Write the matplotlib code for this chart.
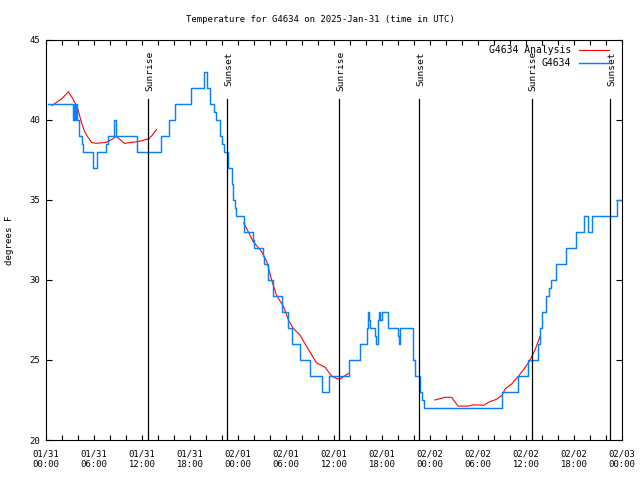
import matplotlib
matplotlib.use("Agg")
import matplotlib.pyplot as plt
import numpy as np

# ---- data (hours since 2025-01-31 00:00 UTC) ----
blue_hours = [0.2, 3.35, 3.5, 3.6, 3.75, 3.85, 4.15, 4.45, 4.6, 5.85, 6.4, 7.55, 7.7,
              8.45, 8.8, 11.4, 14.4, 15.4, 16.1, 18.1, 19.7, 20.15, 20.5, 21.0, 21.3,
              21.7, 22.0, 22.2, 22.7, 23.2, 23.4, 23.6, 23.7, 24.7, 24.8, 25.9, 26.0,
              27.1, 27.3, 27.7, 27.8, 28.4, 29.5, 30.3, 30.7, 31.75, 33.0, 34.5, 35.4,
              37.9, 39.3, 40.15, 40.3, 40.4, 40.5, 41.15, 41.3, 41.5, 41.65, 41.8, 41.95,
              42.8, 44.0, 44.15, 44.3, 45.9, 46.1, 46.75, 47.0, 47.2, 57.0, 59.0, 60.25,
              61.5, 61.75, 62.0, 62.5, 62.9, 63.1, 63.7, 65.0, 66.3, 67.3, 67.8, 68.3,
              71.4, 72.0]
blue_temps = [41, 40, 41, 40, 41, 40, 39, 38.5, 38, 37, 38, 38.5, 39,
              40, 39, 38, 39, 40, 41, 42, 43, 42, 41, 40.5, 40,
              39, 38.5, 38, 37, 36, 35, 34.5, 34, 33.5, 33, 32.5, 32,
              31.5, 31, 30.5, 30, 29, 28, 27, 26, 25, 24, 23, 24,
              25, 26, 27, 28, 27.5, 27, 26.5, 26, 27.5, 28, 27.5, 28,
              27, 26.5, 26, 27, 25, 24, 23, 22.5, 22, 23, 24, 25,
              26, 27, 28, 29, 29.5, 30, 31, 32, 33, 34, 33, 34,
              35, 35]

red_hours = [0.75, 1.25, 1.9, 2.3, 2.8, 3.33, 3.96, 4.4, 4.8, 5.2, 5.7, 6.25, 7.5, 8.1,
             8.75, 9.2, 9.8, 10.6, 11.5, 12.3, 12.9, 13.3, 13.8, np.nan,
             24.7, 25.3, 25.9, 26.96, 27.6, 28.2, 28.8, 29.7, 30.3, 30.9, 31.75, 32.6,
             33.8, 34.9, 35.7, 36.3, 36.75, 37.6, 37.8, np.nan,
             48.6, 49.9, 50.7, 51.5, 52.8, 53.4, 54.7, 55.5, 56.3, 57.0, 57.4, 58.2,
             59.0, 59.7, 60.4, 61.1, 61.75]
red_temps = [40.9, 41.08, 41.3, 41.5, 41.77, 41.35, 40.73, 39.9, 39.3, 38.96, 38.6, 38.54,
             38.6, 38.75, 38.96, 38.8, 38.54, 38.6, 38.65, 38.75, 38.85, 39.06, 39.4, np.nan,
             33.58, 33.0, 32.4, 31.77, 31.15, 30.0, 29.06, 28.33, 27.5, 26.98, 26.56, 25.83,
             24.83, 24.54, 24.0, 23.85, 23.8, 24.1, 24.15, np.nan,
             22.5, 22.67, 22.67, 22.12, 22.12, 22.2, 22.17, 22.4, 22.54, 22.8, 23.2, 23.5,
             23.96, 24.4, 24.9, 25.6, 26.46]

sun_hours = [12.78, 22.66, 36.66, 46.66, 60.7, 70.54]
sun_labels = ["Sunrise", "Sunset", "Sunrise", "Sunset", "Sunrise", "Sunset"]

xtick_hours = list(range(0, 73, 6))
xtick_labels = ["01/31\n00:00", "01/31\n06:00", "01/31\n12:00", "01/31\n18:00",
                "02/01\n00:00", "02/01\n06:00", "02/01\n12:00", "02/01\n18:00",
                "02/02\n00:00", "02/02\n06:00", "02/02\n12:00", "02/02\n18:00",
                "02/03\n00:00"]
yticks = [20, 25, 30, 35, 40, 45]

title = "Temperature for G4634 on 2025-Jan-31 (time in UTC)"
ylabel = "degrees F"

FONT = "DejaVu Sans Mono"
plt.rcParams['font.family'] = FONT

fig = plt.figure(figsize=(6.4, 4.8), dpi=100)
ax = fig.add_axes([46/640, 40/480, 576/640, 400/480])

ax.plot(red_hours, red_temps, color='#ff0000', lw=0.8, label='G4634 Analysis')
ax.plot(blue_hours, blue_temps, color='#0a80ff', lw=1.05, drawstyle='steps-post', label='G4634')

for h, lab in zip(sun_hours, sun_labels):
    ax.plot([h, h], [20, 41.3], color='black', lw=0.9)
    ax.text(h + 0.15, 44.3, lab, rotation=90, ha='center', va='top', fontsize=6.8,
            family=FONT)

ax.set_xlim(0, 72)
ax.set_ylim(20, 45)

ax.set_xticks(range(0, 73, 2))
ax.set_xticklabels([xtick_labels[xtick_hours.index(t)] if t in xtick_hours else ""
                    for t in range(0, 73, 2)], fontsize=6.4)
ax.set_yticks(yticks)
ax.set_yticklabels([str(v) for v in yticks], fontsize=6.5)
ax.tick_params(axis='x', direction='in', length=3.5, width=0.8, top=True, pad=7)
ax.tick_params(axis='y', direction='in', length=4.5, width=0.8, right=True, pad=4)
for s in ax.spines.values():
    s.set_linewidth(0.8)

fig.text(0.5, 1 - 19/480, title, ha='center', va='center', fontsize=6.5)
fig.text(10/640, 0.5, ylabel, rotation=90, ha='center', va='center', fontsize=6.6)

ax.legend(loc='upper right', bbox_to_anchor=(1 - 13/576, 1 - 5/400), frameon=False,
          markerfirst=False, fontsize=7, handlelength=3.1, handletextpad=0.8,
          borderaxespad=0, borderpad=0, labelspacing=0.3)

fig.savefig("out.png", dpi=100)
